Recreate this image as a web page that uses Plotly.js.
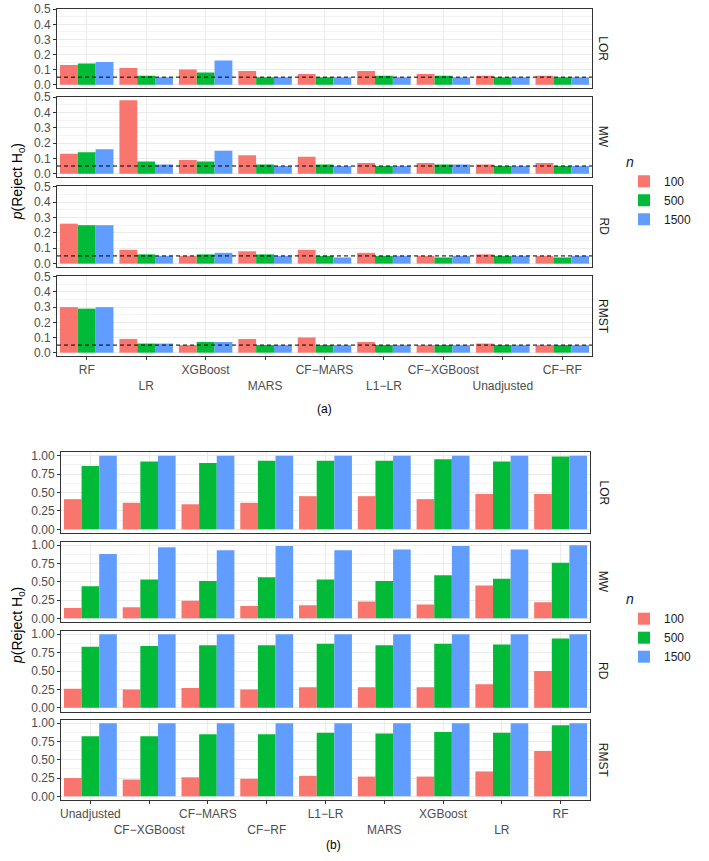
<!DOCTYPE html>
<html>
<head>
<meta charset="utf-8">
<script src="https://cdn.plot.ly/plotly-3.0.1.min.js"></script>
<style>html,body{margin:0;padding:0;background:#fff;}#chart{width:709px;height:861px;}</style>
</head>
<body>
<div id="chart"></div>
<script>
// ---------- data ----------
const sizes = ['100', '500', '1500'];
const colors = ['#F8766D', '#00BA38', '#619CFF'];
const facets = ['LOR', 'MW', 'RD', 'RMST'];
const alphaLevel = 0.05;

// Panel (a)
const catsA = ['RF', 'LR', 'XGBoost', 'MARS', 'CF-MARS', 'L1-LR', 'CF-XGBoost', 'Unadjusted', 'CF-RF'];
const a_LOR_100  = [0.13, 0.11, 0.10, 0.09, 0.07, 0.09, 0.07, 0.06, 0.06];
const a_LOR_500  = [0.14, 0.06, 0.08, 0.05, 0.05, 0.06, 0.06, 0.05, 0.05];
const a_LOR_1500 = [0.15, 0.05, 0.16, 0.05, 0.05, 0.05, 0.05, 0.05, 0.05];
const a_MW_100   = [0.13, 0.48, 0.09, 0.12, 0.11, 0.07, 0.07, 0.06, 0.07];
const a_MW_500   = [0.14, 0.08, 0.08, 0.06, 0.06, 0.05, 0.06, 0.05, 0.05];
const a_MW_1500  = [0.16, 0.06, 0.15, 0.05, 0.05, 0.05, 0.06, 0.05, 0.05];
const a_RD_100   = [0.26, 0.09, 0.05, 0.08, 0.09, 0.07, 0.05, 0.06, 0.05];
const a_RD_500   = [0.25, 0.06, 0.06, 0.06, 0.05, 0.05, 0.04, 0.05, 0.04];
const a_RD_1500  = [0.25, 0.05, 0.07, 0.05, 0.04, 0.05, 0.05, 0.05, 0.05];
const a_RMST_100  = [0.30, 0.09, 0.05, 0.09, 0.10, 0.07, 0.05, 0.06, 0.05];
const a_RMST_500  = [0.29, 0.06, 0.07, 0.05, 0.05, 0.05, 0.05, 0.05, 0.05];
const a_RMST_1500 = [0.30, 0.06, 0.07, 0.05, 0.05, 0.05, 0.05, 0.05, 0.05];

// Panel (b)
const catsB = ['Unadjusted', 'CF-XGBoost', 'CF-MARS', 'CF-RF', 'L1-LR', 'MARS', 'XGBoost', 'LR', 'RF'];
const b_LOR_100  = [0.41, 0.36, 0.34, 0.36, 0.45, 0.45, 0.41, 0.48, 0.48];
const b_LOR_500  = [0.86, 0.92, 0.90, 0.93, 0.93, 0.93, 0.95, 0.92, 0.99];
const b_LOR_1500 = [1.00, 1.00, 1.00, 1.00, 1.00, 1.00, 1.00, 1.00, 1.00];
const b_MW_100   = [0.14, 0.15, 0.24, 0.17, 0.18, 0.23, 0.19, 0.45, 0.22];
const b_MW_500   = [0.44, 0.53, 0.51, 0.56, 0.53, 0.51, 0.59, 0.54, 0.76];
const b_MW_1500  = [0.88, 0.97, 0.93, 0.99, 0.93, 0.94, 0.99, 0.94, 1.00];
const b_RD_100   = [0.26, 0.25, 0.27, 0.25, 0.28, 0.28, 0.28, 0.32, 0.50];
const b_RD_500   = [0.83, 0.84, 0.85, 0.85, 0.87, 0.85, 0.87, 0.86, 0.94];
const b_RD_1500  = [1.00, 1.00, 1.00, 1.00, 1.00, 1.00, 1.00, 1.00, 1.00];
const b_RMST_100  = [0.25, 0.23, 0.26, 0.24, 0.28, 0.27, 0.27, 0.34, 0.62];
const b_RMST_500  = [0.82, 0.82, 0.85, 0.85, 0.87, 0.86, 0.88, 0.87, 0.97];
const b_RMST_1500 = [1.00, 1.00, 1.00, 1.00, 1.00, 1.00, 1.00, 1.00, 1.00];

const yTitle = '<i>p</i>(Reject H<sub>0</sub>)';
const legendTitle = '<i>n</i>';

// ---------- assembly ----------
const panelA = [[a_LOR_100, a_LOR_500, a_LOR_1500], [a_MW_100, a_MW_500, a_MW_1500],
                [a_RD_100, a_RD_500, a_RD_1500], [a_RMST_100, a_RMST_500, a_RMST_1500]];
const panelB = [[b_LOR_100, b_LOR_500, b_LOR_1500], [b_MW_100, b_MW_500, b_MW_1500],
                [b_RD_100, b_RD_500, b_RD_1500], [b_RMST_100, b_RMST_500, b_RMST_1500]];

const W = 709, H = 861;
const FONT = 'Liberation Sans, Arial, Helvetica, sans-serif';
const px2y = p => 1 - p / H;
const facetPxA = [[8.5, 88], [96.5, 177], [186, 267], [276, 356]];
const facetPxB = [[452, 533], [541.5, 622], [630.5, 711.5], [719.5, 800]];
const xDomA = [57 / W, 592 / W];
const xDomB = [61 / W, 590 / W];

const traces = [];
const legendCommon = {
  xanchor: 'left', yanchor: 'top',
  title: {text: legendTitle, font: {size: 14, family: FONT}},
  font: {size: 12, family: FONT, color: '#1A1A1A'}, bgcolor: 'rgba(0,0,0,0)', traceorder: 'normal'
};
const layout = {
  width: W, height: H,
  margin: {l: 0, r: 0, t: 0, b: 0},
  paper_bgcolor: '#ffffff', plot_bgcolor: '#ffffff',
  font: {family: FONT, color: '#1A1A1A'},
  barmode: 'group', bargap: 0.1, bargroupgap: 0,
  shapes: [], annotations: [],
  legend: Object.assign({x: 624 / W, y: px2y(148.5)}, legendCommon),
  legend2: Object.assign({x: 624 / W, y: px2y(586)}, legendCommon)
};

function dodge(cats) {
  return cats.map((c, i) => (i % 2 === 1 ? '<br>' : '') + c.replace(/-/g, '\u2212'));
}

function buildPanel(panel, cats, facetPx, xDom, offset, legendName, yRange, dtick, minorDtick, fmt, dashed) {
  for (let f = 0; f < 4; f++) {
    const idx = offset + f + 1;
    const s = idx === 1 ? '' : String(idx);
    const bottom = f === 3;
    for (let k = 0; k < 3; k++) {
      traces.push({
        type: 'bar', x: cats, y: panel[f][k], name: sizes[k],
        marker: {color: colors[k]},
        xaxis: 'x' + s, yaxis: 'y' + s,
        legend: legendName, showlegend: f === 0, legendgroup: legendName + sizes[k],
        hoverinfo: 'skip'
      });
    }
    layout['xaxis' + s] = {
      domain: xDom, anchor: 'y' + s, type: 'category',
      categoryorder: 'array', categoryarray: cats, range: [-0.5, cats.length - 0.5],
      showgrid: true, gridcolor: '#EBEBEB', gridwidth: 1, zeroline: false,
      showline: true, mirror: true, linecolor: '#333333', linewidth: 1,
      ticks: bottom ? 'outside' : '', ticklen: 3, tickwidth: 1, tickcolor: '#333333',
      showticklabels: bottom, tickvals: cats, ticktext: dodge(cats), tickangle: 0,
      tickfont: {size: 12, family: FONT, color: '#4D4D4D'}
    };
    layout['yaxis' + s] = {
      domain: [px2y(facetPx[f][1]), px2y(facetPx[f][0])], anchor: 'x' + s,
      range: yRange, tick0: 0, dtick: dtick, tickformat: fmt,
      showgrid: true, gridcolor: '#EBEBEB', gridwidth: 1, zeroline: false,
      minor: {dtick: minorDtick, tick0: 0, showgrid: true, gridcolor: '#F4F4F4', gridwidth: 1},
      showline: true, mirror: true, linecolor: '#333333', linewidth: 1,
      ticks: 'outside', ticklen: 3, tickwidth: 1, tickcolor: '#333333',
      tickfont: {size: 12, family: FONT, color: '#4D4D4D'}
    };
    if (dashed) {
      layout.shapes.push({type: 'line', xref: 'x' + s + ' domain', x0: 0, x1: 1,
        yref: 'y' + s, y0: alphaLevel, y1: alphaLevel,
        line: {color: '#000000', width: 1, dash: '4px,3px'}});
    }
    layout.annotations.push({
      text: facets[f], xref: 'paper', yref: 'paper', x: 603 / W,
      y: px2y((facetPx[f][0] + facetPx[f][1]) / 2), textangle: 90, showarrow: false,
      font: {size: 12, family: FONT, color: '#1A1A1A'}, xanchor: 'center', yanchor: 'middle'
    });
  }
  layout.annotations.push({
    text: yTitle, xref: 'paper', yref: 'paper', x: 18 / W,
    y: px2y((facetPx[0][0] + facetPx[3][1]) / 2), textangle: -90, showarrow: false,
    font: {size: 14, family: FONT, color: '#000000'}, xanchor: 'center', yanchor: 'middle'
  });
}

buildPanel(panelA, catsA, facetPxA, xDomA, 0, 'legend', [-0.022, 0.505], 0.1, 0.05, '.1f', true);
buildPanel(panelB, catsB, facetPxB, xDomB, 4, 'legend2', [-0.05, 1.05], 0.25, 0.125, '.2f', false);

layout.annotations.push({text: '(a)', xref: 'paper', yref: 'paper', x: 324 / W, y: px2y(409),
  showarrow: false, font: {size: 12, family: FONT, color: '#000000'}});
layout.annotations.push({text: '(b)', xref: 'paper', yref: 'paper', x: 333 / W, y: px2y(854),
  showarrow: false, font: {size: 12, family: FONT, color: '#000000'}});

Plotly.newPlot('chart', traces, layout, {displayModeBar: false, staticPlot: true});
</script>
</body>
</html>
